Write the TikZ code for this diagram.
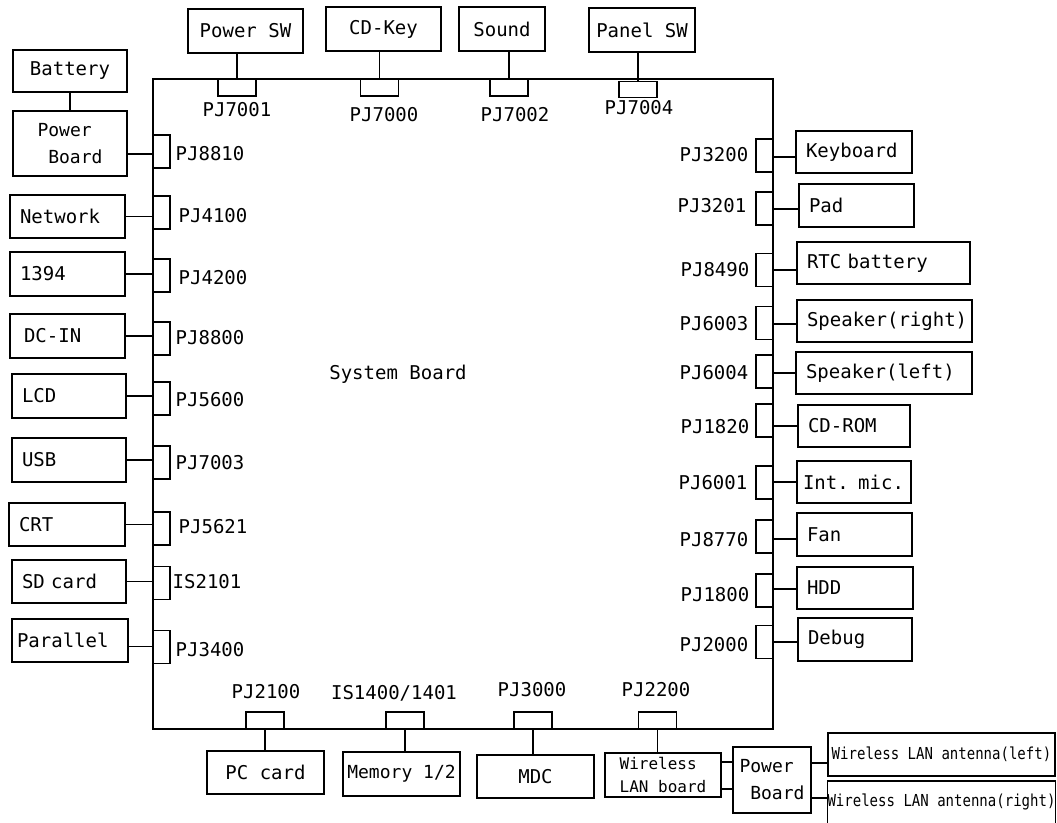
\documentclass[tikz,border=0pt]{standalone}
\usepackage{fontspec}
\setmainfont{DejaVu Sans Mono}
\newfontfamily\condfont[FakeStretch=0.85]{DejaVu Sans Mono}
\usetikzlibrary{calc}
\newcommand{\fs}[1]{\fontsize{#1}{#1}\selectfont}
\begin{document}
\begin{tikzpicture}[x=1pt,y=-1pt,line width=1.4pt,
  box/.style={draw, line width=1.4pt, inner sep=0pt, font=\fs{19}},
  lbox/.style={box, align=left, inner xsep=10pt},
  conn/.style={draw, line width=1.4pt, inner sep=0pt},
  vconn/.style={conn, minimum width=17pt, minimum height=33pt},
  hconn/.style={conn, minimum width=38pt, minimum height=17pt},
  lab/.style={inner sep=0pt, font=\fs{19}}]
\clip (0,0) rectangle (1057,822);
\fill[white] (0,0) rectangle (1057,822);

% system board
\node[draw, line width=1.4pt, minimum width=620pt, minimum height=650pt, inner sep=0pt] (board) at (463,404) {};
\node[lab] (sysb) at (398,374) {System Board};

% top boxes
\node[box, minimum width=115pt, minimum height=44pt] (pwsw) at (245.5,31) {Power SW};
\node[box, minimum width=115pt, minimum height=44pt] (cdkey) at (383.5,29) {CD-Key};
\node[box, minimum width=86pt, minimum height=44pt] (sound) at (502,29) {Sound};
\node[box, minimum width=106pt, minimum height=44pt] (panel) at (642,30) {Panel SW};

\node[hconn] (c7001) at (237,87.5) {};
\node[hconn] (c7000) at (379.5,87.5) {};
\node[hconn] (c7002) at (509,87.5) {};
\node[hconn, minimum height=16pt] (c7004) at (638,89.5) {};

\node[lab] (l7001) at (237,110) {PJ7001};
\node[lab] (l7000) at (384,115) {PJ7000};
\node[lab] (l7002) at (515,115) {PJ7002};
\node[lab] (l7004) at (639,108) {PJ7004};

\draw (c7001.north) -- (c7001.north |- pwsw.south);
\draw (c7000.north) -- (c7000.north |- cdkey.south);
\draw (c7002.north) -- (c7002.north |- sound.south);
\draw (c7004.north) -- (c7004.north |- panel.south);

% left boxes
\node[box, minimum width=114pt, minimum height=42pt] (bat) at (70,71) {Battery};
\node[box, minimum width=114pt, minimum height=65pt, align=left, font=\fs{18}] (pbl) at (70,143.5) {Power\\[9pt]\hspace*{0.6em}Board};
\node[lbox, text width=95pt, minimum height=43pt] (net) at (67.5,216.5) {Network};
\node[lbox, text width=95pt, minimum height=44pt] (n1394) at (67.5,274) {1394};
\node[lbox, text width=95pt, minimum height=44pt] (dcin) at (67.5,336) {\hspace*{4pt}DC-IN};
\node[lbox, text width=94pt, minimum height=44pt] (lcd) at (69,396) {LCD};
\node[lbox, text width=94pt, minimum height=44pt] (usb) at (69,460) {USB};
\node[lbox, text width=96pt, minimum height=43pt] (crt) at (67,524.5) {CRT};
\node[lbox, text width=94pt, minimum height=43pt] (sd) at (69,581.5) {SD card};
\node[lbox, inner xsep=5pt, text width=106pt, minimum height=43pt] (par) at (70,640.5) {Parallel};

\node[vconn] (c8810) at (161.5,151.5) {};
\node[vconn] (c4100) at (161.5,212.5) {};
\node[vconn] (c4200) at (161.5,275.5) {};
\node[vconn] (c8800) at (161.5,338.5) {};
\node[vconn] (c5600) at (161.5,398.5) {};
\node[vconn] (c7003) at (161.5,462.5) {};
\node[vconn] (c5621) at (161.5,528.5) {};
\node[vconn] (c2101) at (161.5,583) {};
\node[vconn] (c3400) at (161.5,647) {};

\node[lab, anchor=west] (l8810) at (175,154) {PJ8810};
\node[lab, anchor=west] (l4100) at (178,216) {PJ4100};
\node[lab, anchor=west] (l4200) at (178,278) {PJ4200};
\node[lab, anchor=west] (l8800) at (175,338) {PJ8800};
\node[lab, anchor=west] (l5600) at (175,400) {PJ5600};
\node[lab, anchor=west] (l7003) at (175,463) {PJ7003};
\node[lab, anchor=west] (l5621) at (178,527) {PJ5621};
\node[lab, anchor=west] (l2101) at (172,582) {IS2101};
\node[lab, anchor=west] (l3400) at (175,650) {PJ3400};

\draw (bat.south) -- (pbl.north);
\draw ([yshift=-10.5pt]pbl.east) -- ([yshift=-10.5pt]pbl.east -| c8810.west);
\draw (net.east) -- (net.east -| c4100.west);
\draw (n1394.east) -- (n1394.east -| c4200.west);
\draw (dcin.east) -- (dcin.east -| c8800.west);
\draw (lcd.east) -- (lcd.east -| c5600.west);
\draw (usb.east) -- (usb.east -| c7003.west);
\draw (crt.east) -- (crt.east -| c5621.west);
\draw (sd.east) -- (sd.east -| c2101.west);
\draw ([yshift=-6pt]par.east) -- ([yshift=-6pt]par.east -| c3400.west);

% right boxes
\node[lbox, text width=96pt, minimum height=42pt] (kbd) at (854,152) {Keyboard};
\node[lbox, text width=95pt, minimum height=43pt] (pad) at (856.5,205.5) {Pad};
\node[lbox, text width=153pt, minimum height=42pt] (rtc) at (883.5,263) {RTC battery};
\node[lbox, text width=155pt, minimum height=42pt] (spkr) at (884.5,321) {Speaker(right)};
\node[lbox, text width=156pt, minimum height=42pt] (spkl) at (884,373) {Speaker(left)};
\node[lbox, text width=92pt, minimum height=42pt] (cdrom) at (854,426) {CD-ROM};
\node[lbox, inner xsep=4pt, text width=106pt, minimum height=42pt] (mic) at (854,482) {\hspace*{2pt}Int. mic.};
\node[lbox, text width=95pt, minimum height=43pt] (fan) at (854.5,534.5) {Fan};
\node[lbox, text width=96pt, minimum height=42pt] (hdd) at (855,588) {HDD};
\node[lbox, text width=94pt, minimum height=43pt] (dbg) at (855,639.5) {Debug};

\node[vconn] (c3200) at (764.5,155.5) {};
\node[vconn] (c3201) at (764.5,208.5) {};
\node[vconn] (c8490) at (764.5,270) {};
\node[vconn] (c6003) at (764.5,323) {};
\node[vconn] (c6004) at (764.5,371.5) {};
\node[vconn] (c1820) at (764.5,420.5) {};
\node[vconn] (c6001) at (764.5,482.5) {};
\node[vconn] (c8770) at (764.5,536.5) {};
\node[vconn] (c1800) at (764.5,590.5) {};
\node[vconn] (c2000) at (764.5,642) {};

\node[lab, anchor=east] (l3200) at (749,155) {PJ3200};
\node[lab, anchor=east] (l3201) at (747,206) {PJ3201};
\node[lab, anchor=east] (l8490) at (750,270) {PJ8490};
\node[lab, anchor=east] (l6003) at (749,324) {PJ6003};
\node[lab, anchor=east] (l6004) at (749,373) {PJ6004};
\node[lab, anchor=east] (l1820) at (750,427) {PJ1820};
\node[lab, anchor=east] (l6001) at (748,483) {PJ6001};
\node[lab, anchor=east] (l8770) at (749,540) {PJ8770};
\node[lab, anchor=east] (l1800) at (750,595) {PJ1800};
\node[lab, anchor=east] (l2000) at (749,645) {PJ2000};

\draw ([yshift=-5pt]kbd.west) -- ([yshift=-5pt]kbd.west -| c3200.east);
\draw ([yshift=-3.5pt]pad.west) -- ([yshift=-3.5pt]pad.west -| c3201.east);
\draw ([yshift=-7pt]rtc.west) -- ([yshift=-7pt]rtc.west -| c8490.east);
\draw ([yshift=-3pt]spkr.west) -- ([yshift=-3pt]spkr.west -| c6003.east);
\draw (spkl.west) -- (spkl.west -| c6004.east);
\draw (cdrom.west) -- (cdrom.west -| c1820.east);
\draw (mic.west) -- (mic.west -| c6001.east);
\draw ([yshift=-4.5pt]fan.west) -- ([yshift=-4.5pt]fan.west -| c8770.east);
\draw ([yshift=-1pt]hdd.west) -- ([yshift=-1pt]hdd.west -| c1800.east);
\draw ([yshift=-2.5pt]dbg.west) -- ([yshift=-2.5pt]dbg.west -| c2000.east);

% bottom
\node[box, minimum width=117pt, minimum height=43pt] (pccard) at (265.5,772.5) {PC card};
\node[box, minimum width=117pt, minimum height=44pt, font=\fs{18}] (mem) at (401.5,774) {Memory 1/2};
\node[box, minimum width=117pt, minimum height=43pt] (mdc) at (535.5,776.5) {MDC};
\node[box, minimum width=116pt, minimum height=44pt, align=left, font=\fs{16}] (wlan) at (663,775) {Wireless\\[7pt]LAN board};
\node[box, minimum width=78pt, minimum height=66pt, align=left, font=\fs{18}] (pbb) at (772,780) {Power\\[9pt]\hspace*{0.6em}Board};
\node[box, minimum width=227pt, minimum height=43pt, font=\condfont\fs{16.5}] (antl) at (941.5,754.5) {\raisebox{-5pt}{Wireless LAN antenna(left)}};
\node[box, minimum width=227pt, minimum height=43pt, font=\condfont\fs{16.5}] (antr) at (941.5,802.5) {\raisebox{4pt}{Wireless LAN antenna(right)}};

\node[hconn] (c2100) at (265,720.5) {};
\node[hconn] (c1400) at (405,720.5) {};
\node[hconn] (c3000) at (533,720.5) {};
\node[hconn] (c2200) at (657.5,720.5) {};

\node[lab] (l2100) at (266,692) {PJ2100};
\node[lab] (l1400) at (394,693) {IS1400/1401};
\node[lab] (l3000) at (532,690) {PJ3000};
\node[lab] (l2200) at (656,690) {PJ2200};

\draw (c2100.south) -- (c2100.south |- pccard.north);
\draw (c1400.south) -- (c1400.south |- mem.north);
\draw (c3000.south) -- (c3000.south |- mdc.north);
\draw (c2200.south) -- (c2200.south |- wlan.north);
\draw ([yshift=13pt]wlan.east) -- ([yshift=13pt]wlan.east -| pbb.west);
\draw ([yshift=-14pt]wlan.east) -- ([yshift=-14pt]wlan.east -| pbb.west);
\draw ([yshift=-8.5pt]antl.west) -- ([yshift=-8.5pt]antl.west -| pbb.east);
\draw ([yshift=4.5pt]antr.west) -- ([yshift=4.5pt]antr.west -| pbb.east);
\end{tikzpicture}
\end{document}
